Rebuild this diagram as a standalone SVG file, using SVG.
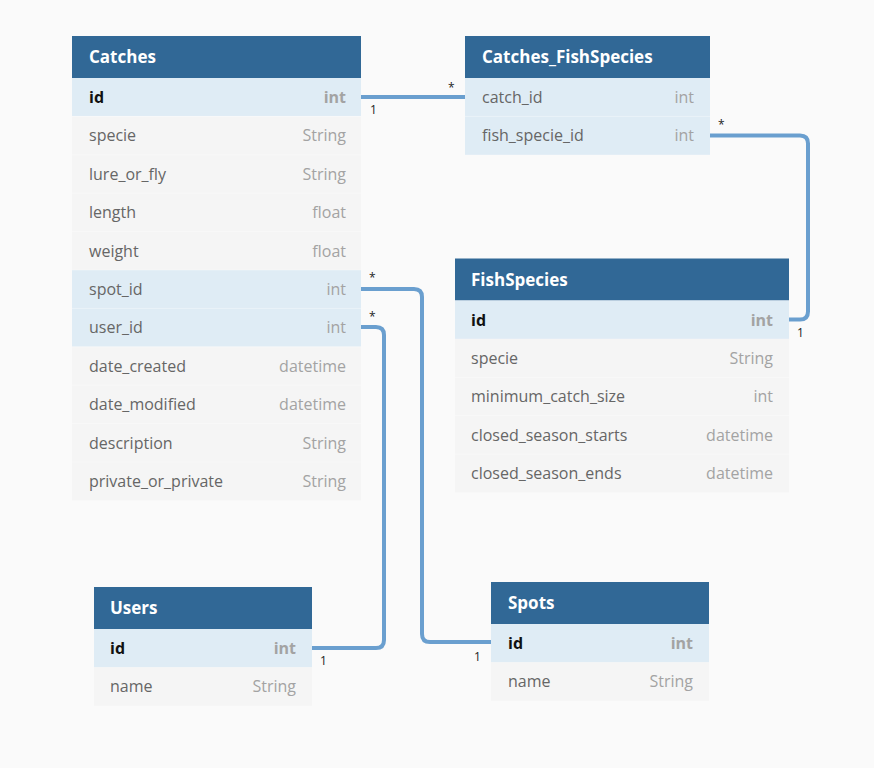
<svg xmlns="http://www.w3.org/2000/svg" width="874" height="768" viewBox="0 0 874 768">
<style>
.bg{fill:#fafafa}
.hd{fill:#316896}
.hdt{font-family:"Open Sans","Noto Sans","DejaVu Sans",sans-serif;font-size:17px;font-weight:bold;fill:#ffffff}
.rk{fill:#dfecf5}
.rn{fill:#f5f5f5}
.sep{stroke:#ffffff;stroke-opacity:0.35;stroke-width:1}
.fn{font-family:"Open Sans","Noto Sans","DejaVu Sans",sans-serif;font-size:16px;fill:#666666}
.fk{font-family:"Open Sans","Noto Sans","DejaVu Sans",sans-serif;font-size:16px;font-weight:bold;fill:#111111}
.ty{font-family:"Open Sans","Noto Sans","DejaVu Sans",sans-serif;font-size:16px;fill:#a3a3a3;text-anchor:end}
.tyk{font-family:"Open Sans","Noto Sans","DejaVu Sans",sans-serif;font-size:16px;font-weight:bold;fill:#a3a3a3;text-anchor:end}
.ln{fill:none;stroke:#6a9fcf;stroke-width:4}
.lb{font-family:"Open Sans","Noto Sans","DejaVu Sans",sans-serif;font-size:12px;fill:#222222}
</style>
<rect class="bg" x="0" y="0" width="874" height="768"/>

<g id="connectors">
<path class="ln" d="M361,97 H465"/>
<path class="ln" d="M710,135.5 H800 Q808,135.5 808,143.5 V311.5 Q808,319.5 800,319.5 H789"/>
<path class="ln" d="M361,289 H414 Q422,289 422,297 V634 Q422,642 430,642 H491"/>
<path class="ln" d="M361,327 H376 Q384,327 384,335 V640 Q384,648 376,648 H312"/>
<text class="lb" x="370" y="114">1</text>
<text class="lb" x="448" y="92">*</text>
<text class="lb" x="718" y="129">*</text>
<text class="lb" x="797" y="337">1</text>
<text class="lb" x="369" y="282">*</text>
<text class="lb" x="369" y="321">*</text>
<text class="lb" x="320" y="665">1</text>
<text class="lb" x="474" y="661">1</text>
</g>

<g id="Catches">
<rect class="hd" x="72" y="36" width="289" height="42"/>
<text class="hdt" x="89" y="63">Catches</text>
<rect class="rk" x="72" y="78" width="289" height="38.4"/>
<rect class="rn" x="72" y="116.4" width="289" height="153.6"/>
<rect class="rk" x="72" y="270" width="289" height="76.8"/>
<rect class="rn" x="72" y="346.8" width="289" height="153.6"/>
<path class="sep" d="M72,116.4H361M72,154.8H361M72,193.2H361M72,231.6H361M72,270H361M72,308.4H361M72,346.8H361M72,385.2H361M72,423.6H361M72,462H361"/>
<text class="fk" x="89" y="103">id</text><text class="tyk" x="346" y="103">int</text>
<text class="fn" x="89" y="141">specie</text><text class="ty" x="346" y="141">String</text>
<text class="fn" x="89" y="180">lure_or_fly</text><text class="ty" x="346" y="180">String</text>
<text class="fn" x="89" y="218">length</text><text class="ty" x="346" y="218">float</text>
<text class="fn" x="89" y="257">weight</text><text class="ty" x="346" y="257">float</text>
<text class="fn" x="89" y="295">spot_id</text><text class="ty" x="346" y="295">int</text>
<text class="fn" x="89" y="333">user_id</text><text class="ty" x="346" y="333">int</text>
<text class="fn" x="89" y="372">date_created</text><text class="ty" x="346" y="372">datetime</text>
<text class="fn" x="89" y="410">date_modified</text><text class="ty" x="346" y="410">datetime</text>
<text class="fn" x="89" y="449">description</text><text class="ty" x="346" y="449">String</text>
<text class="fn" x="89" y="487">private_or_private</text><text class="ty" x="346" y="487">String</text>
</g>

<g id="Catches_FishSpecies">
<rect class="hd" x="465" y="36" width="245" height="42"/>
<text class="hdt" x="482" y="63">Catches_FishSpecies</text>
<rect class="rk" x="465" y="78" width="245" height="76.8"/>
<path class="sep" d="M465,116.4H710"/>
<text class="fn" x="482" y="103">catch_id</text><text class="ty" x="694" y="103">int</text>
<text class="fn" x="482" y="141">fish_specie_id</text><text class="ty" x="694" y="141">int</text>
</g>

<g id="FishSpecies">
<rect class="hd" x="455" y="258.5" width="334" height="42"/>
<text class="hdt" x="471" y="285.5">FishSpecies</text>
<rect class="rk" x="455" y="300.5" width="334" height="38.4"/>
<rect class="rn" x="455" y="338.9" width="334" height="153.6"/>
<path class="sep" d="M455,377.3H789M455,415.7H789M455,454.1H789"/>
<text class="fk" x="471" y="326">id</text><text class="tyk" x="773" y="326">int</text>
<text class="fn" x="471" y="364">specie</text><text class="ty" x="773" y="364">String</text>
<text class="fn" x="471" y="402">minimum_catch_size</text><text class="ty" x="773" y="402">int</text>
<text class="fn" x="471" y="441">closed_season_starts</text><text class="ty" x="773" y="441">datetime</text>
<text class="fn" x="471" y="479">closed_season_ends</text><text class="ty" x="773" y="479">datetime</text>
</g>

<g id="Users">
<rect class="hd" x="94" y="587" width="218" height="42"/>
<text class="hdt" x="110" y="614">Users</text>
<rect class="rk" x="94" y="629" width="218" height="38.4"/>
<rect class="rn" x="94" y="667.4" width="218" height="38.4"/>
<text class="fk" x="110" y="654">id</text><text class="tyk" x="296" y="654">int</text>
<text class="fn" x="110" y="692">name</text><text class="ty" x="296" y="692">String</text>
</g>

<g id="Spots">
<rect class="hd" x="491" y="582" width="218" height="42"/>
<text class="hdt" x="508" y="609">Spots</text>
<rect class="rk" x="491" y="624" width="218" height="38.4"/>
<rect class="rn" x="491" y="662.4" width="218" height="38.4"/>
<text class="fk" x="508" y="649">id</text><text class="tyk" x="693" y="649">int</text>
<text class="fn" x="508" y="687">name</text><text class="ty" x="693" y="687">String</text>
</g>
</svg>
